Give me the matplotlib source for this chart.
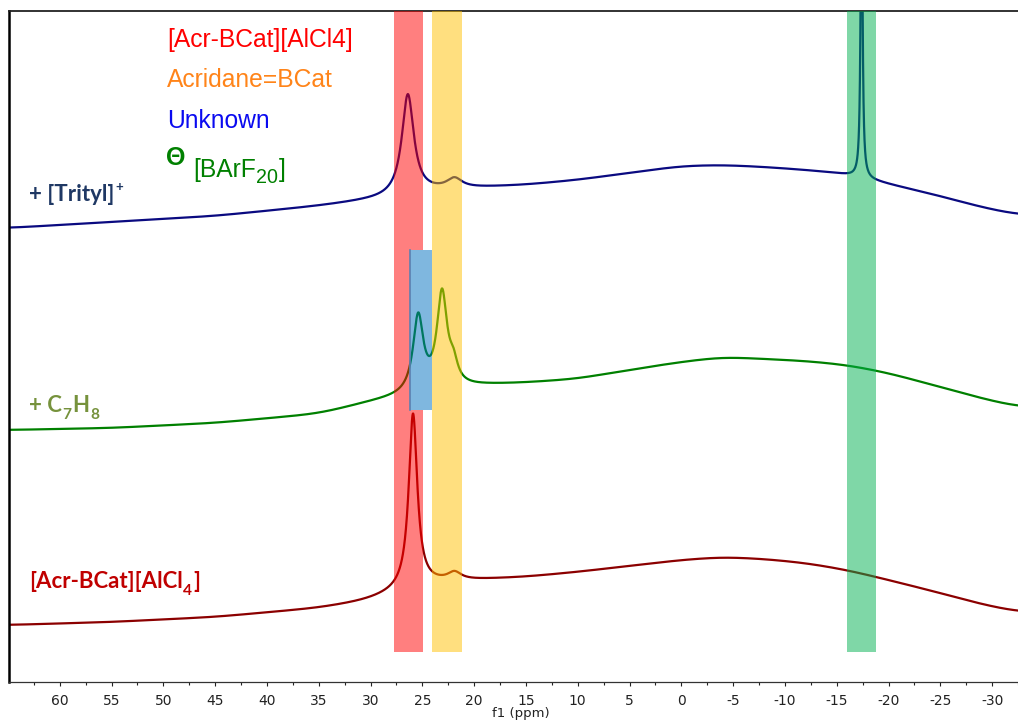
import numpy as np
import matplotlib
matplotlib.use("Agg")
import matplotlib.pyplot as plt
from matplotlib.patches import Rectangle

plt.rcParams["axes.unicode_minus"] = False

# ---------------- data ----------------
# chemical-shift knots (ppm) for the broad baselines
ppm_knots = [65, 55, 45, 35, 30, 27, 24, 20, 15, 10, 5, 0, -4, -8, -12, -16, -20, -25, -28.5, -32.5]

# baseline intensities (arbitrary units, stacked) for each spectrum
trityl_base = [454, 460, 466, 476, 482, 485, 491, 494, 497, 502, 509, 516, 517, 515, 512, 508, 498, 486, 476, 467]
toluene_base = [252, 254, 259, 268, 280, 285, 289, 296, 299, 303, 312, 320, 325, 323, 321, 317, 309, 295, 285, 275]
acr_base = [57, 60, 65, 74, 82, 92, 99, 102, 105, 110, 116, 122, 125, 123, 119, 112, 102, 89, 79, 70]

# peaks: position (ppm), height, half-width (ppm)
trityl_peak_pos = [26.4, 21.9, -17.4]
trityl_peak_h = [101, 10, 350]
trityl_peak_w = [0.7, 0.9, 0.1]

toluene_peak_pos = [25.4, 23.1, 22.0]
toluene_peak_h = [76, 95, 18]
toluene_peak_w = [0.6, 0.6, 0.5]

acr_peak_pos = [25.9, 21.9]
acr_peak_h = [174, 8]
acr_peak_w = [0.5, 0.8]

# highlight bands (ppm limits)
band_left = [27.7, 24.1, -16.0]
band_right = [24.9, 21.2, -18.8]
band_colors = ["#FF0000", "#FFC000", "#00B050"]
band_bottom = 30
blue_left, blue_right = 26.2, 24.1
blue_bottom, blue_top = 272, 432

tick_values = list(range(-30, 61, 5))
tick_labels = [str(v) for v in tick_values]

# ---------------- figure ----------------
W, H = 1018, 721
fig = plt.figure(figsize=(W / 100, H / 100), dpi=100)
ax = fig.add_axes([9 / W, 39 / H, 1 - 9 / W, 671 / H])
xmin, xmax = 64.9, -32.4
ymax = 671
ax.set_xlim(xmin, xmax)
ax.set_ylim(0, ymax)

ppm = np.linspace(65.0, -32.5, 12000)
step = abs(ppm[1] - ppm[0])


def smooth(y, sigma_ppm=1.6):
    s = sigma_ppm / step
    half = int(4 * s)
    k = np.exp(-0.5 * (np.arange(-half, half + 1) / s) ** 2)
    k /= k.sum()
    yp = np.pad(y, half, mode="edge")
    return np.convolve(yp, k, mode="valid")


def spectrum(base, pos, hts, wid):
    y = smooth(np.interp(ppm, ppm_knots[::-1], base[::-1]))
    for p, a, g in zip(pos, hts, wid):
        y = y + a / (1 + ((ppm - p) / g) ** 2)
    return y


LW = 1.6
ax.plot(ppm, spectrum(trityl_base, trityl_peak_pos, trityl_peak_h, trityl_peak_w),
        color="#0A0A80", lw=LW, zorder=2)
ax.plot(ppm, spectrum(toluene_base, toluene_peak_pos, toluene_peak_h, toluene_peak_w),
        color="#008000", lw=LW, zorder=2)
ax.plot(ppm, spectrum(acr_base, acr_peak_pos, acr_peak_h, acr_peak_w),
        color="#8B0000", lw=LW, zorder=2)

# bands (drawn on top, semi transparent)
for i, (l, r, c) in enumerate(zip(band_left, band_right, band_colors)):
    if i == 0:
        ax.add_patch(Rectangle((l, band_bottom), r - l, blue_bottom - band_bottom,
                               color=c, alpha=0.5, lw=0, zorder=3))
        ax.add_patch(Rectangle((l, blue_top), r - l, ymax - blue_top,
                               color=c, alpha=0.5, lw=0, zorder=3))
        ax.add_patch(Rectangle((l, blue_bottom), blue_left - l, blue_top - blue_bottom,
                               color=c, alpha=0.5, lw=0, zorder=3))
    else:
        ax.add_patch(Rectangle((l, band_bottom), r - l, ymax - band_bottom,
                               color=c, alpha=0.5, lw=0, zorder=3))
ax.add_patch(Rectangle((blue_left, blue_bottom), blue_right - blue_left, blue_top - blue_bottom,
                       color="#0070C0", alpha=0.5, lw=0, zorder=3))
ax.plot([blue_left, blue_left], [blue_bottom, blue_top], color="#5C7FB0", lw=1.2, zorder=3)

# axes styling
ax.set_xticks(tick_values)
ax.set_xticklabels(tick_labels)
ax.set_xticks(np.arange(-32.5, 65, 2.5), minor=True)
ax.tick_params(axis="x", which="major", direction="out", length=3, width=0.8,
               pad=5.5, labelsize=10, colors="#222222")
ax.tick_params(axis="x", which="minor", direction="out", length=2, width=0.8, colors="#222222")
ax.tick_params(axis="y", left=False, labelleft=False)
ax.spines["right"].set_visible(False)
ax.spines["left"].set_linewidth(1.8)
ax.spines["left"].set_color("black")
ax.spines["top"].set_linewidth(1.3)
ax.spines["top"].set_color("#222222")
ax.spines["bottom"].set_linewidth(0.9)
ax.spines["bottom"].set_color("#333333")

fig.text(521 / W, 1 - 713 / H, "f1 (ppm)", ha="center", va="center", fontsize=9.5,
         color="#222222")


def fx(x):
    return x / W


def fy(y):
    return 1 - y / H


def rich(x, y, parts, size, color, family, weight="normal"):
    main = fig.text(fx(x), fy(y), parts[0][0], fontsize=size, color=color,
                    family=family, weight=weight, va="baseline", ha="left")
    prev = main
    for s, kind, dy, scale in parts[1:]:
        prev = ax.annotate(s, xy=(1, 0), xycoords=(prev, main), xytext=(0.5, dy),
                           textcoords="offset points", fontsize=size * scale,
                           color=color, family=family, weight=weight,
                           va="bottom", ha="left", annotation_clip=False)
    return main


# legend of colours
LS = "Liberation Sans"
fig.text(fx(167), fy(47), "[Acr-BCat][AlCl4]", fontsize=17.7, color="#FF0000",
         family=LS, va="baseline")
fig.text(fx(167), fy(87), "Acridane=BCat", fontsize=17.7, color="#FF8419",
         family=LS, va="baseline")
fig.text(fx(167), fy(128), "Unknown", fontsize=17.7, color="#0A0AF0",
         family=LS, va="baseline")
fig.text(fx(166), fy(165), "Θ", fontsize=18, color="#008000", family=LS,
         weight="bold", va="baseline")
rich(193, 177, [("[BArF",), ("20", "sub", -3.5, 0.8), ("]", "n", 0, 1.0)],
     17.7, "#008000", LS)

# spectrum labels
LB = "Lato"
rich(29, 201, [("+ [Trityl]",), ("+", "sup", 9, 0.6)], 16, "#1F3864", LB, "bold")
rich(29, 412, [("+ C",), ("7", "sub", -4, 0.7), ("H", "n", 0, 1.0),
               ("8", "sub", -4, 0.7)], 16, "#76923C", LB, "bold")
rich(29, 588, [("[Acr-BCat][AlCl",), ("4", "sub", -4, 0.7), ("]", "n", 0, 1.0)],
     16, "#C00000", LB, "bold")

fig.savefig("out.png", dpi=100)
